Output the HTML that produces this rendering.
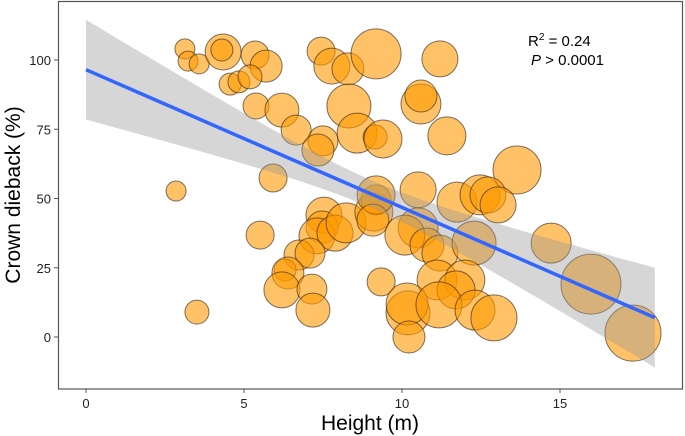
<!DOCTYPE html>
<html><head><meta charset="utf-8"><style>
html,body{margin:0;padding:0;background:#fff;}
svg{display:block;font-family:"Liberation Sans",Arial,sans-serif;}
</style></head><body>
<svg id="chart" width="685" height="436" viewBox="0 0 685 436">
<rect x="0" y="0" width="685" height="436" fill="#fff"/>
<g id="points"></g>
<g id="fit"></g>
<rect x="58.5" y="1.5" width="624" height="387.5" fill="none" stroke="#555" stroke-width="1.2"/>
<g id="axes"></g>
<text x="370" y="430" text-anchor="middle" font-size="21" fill="#000">Height (m)</text>
<text transform="translate(20,195) rotate(-90)" text-anchor="middle" font-size="21" fill="#000">Crown dieback (%)</text>
<text x="528" y="46" font-size="15" fill="#000">R<tspan font-size="10" dy="-6">2</tspan><tspan dy="6"> = 0.24</tspan></text>
<text x="531" y="65" font-size="15" fill="#000"><tspan font-style="italic">P</tspan> &gt; 0.0001</text>
</svg>
<script>
const xs=[3.13,3.23,3.58,4.34,4.30,5.35,5.70,4.56,4.84,5.19,5.38,6.20,6.65,7.50,7.34,7.44,7.78,8.29,8.32,8.58,9.18,9.15,9.40,11.20,10.60,10.60,11.42,13.64,2.85,5.92,5.51,3.51,7.53,7.47,7.31,7.88,8.23,9.11,9.18,6.74,7.09,6.30,6.39,6.20,7.15,7.18,9.18,9.08,10.51,11.74,12.47,12.72,13.04,10.51,10.09,10.79,11.20,12.28,14.72,15.98,17.31,9.34,11.11,11.99,11.71,10.19,10.16,11.17,12.31,12.91,10.22];
const ys=[104.0,99.6,98.6,102.9,103.6,101.8,97.8,91.3,92.1,93.9,83.4,81.9,74.7,70.8,67.5,103.2,97.8,96.8,83.4,73.6,102.2,72.2,71.5,100.4,84.1,87.0,72.6,60.3,52.7,57.4,36.8,9.0,44.0,39.7,36.5,37.5,41.2,45.1,49.5,29.6,30.3,24.2,23.1,17.0,17.3,9.7,51.3,42.2,53.1,48.7,51.3,51.3,47.7,39.4,36.8,33.2,30.3,33.9,33.9,19.1,1.4,19.9,20.6,20.6,17.0,8.7,11.9,11.6,9.7,6.9,0.0];
const sizes=[10,10,10,18,11,14,16,11,11,12,13,17,15,15,16,14,18,16,22,20,25,12,19,18,20,16,19,24,10,14,14,12,18,16,18,18,20,19,15,15,15,11,16,18,15,17,19,16,18,20,20,18,18,20,20,17,18,22,20,30,28,14,20,20,19,22,21,23,20,23,16];
const xTicks=[0,5,10,15];
const yTicks=[0,25,50,75,100];
const fitX=[0,18];
const fitY=[96.5,7];
const xMean=9, seMid=5, seSlope=3.69;
const NS="http://www.w3.org/2000/svg";
function sx(v){return 86+31.6*v;}
function sy(v){return 337-2.77*v;}
function fitAt(x){return fitY[0]+(fitY[1]-fitY[0])*(x-fitX[0])/(fitX[1]-fitX[0]);}
function hw(x){return Math.sqrt(seMid*seMid+seSlope*(x-xMean)*(x-xMean));}
const pg=document.getElementById('points');
for(let i=0;i<xs.length;i++){
  const c=document.createElementNS(NS,'circle');
  c.setAttribute('cx',sx(xs[i]));c.setAttribute('cy',sy(ys[i]));c.setAttribute('r',sizes[i]);
  c.setAttribute('fill','rgba(255,153,0,0.6)');c.setAttribute('stroke','rgba(40,30,20,0.6)');c.setAttribute('stroke-width','1');
  
  
  pg.appendChild(c);
}
const fg=document.getElementById('fit');
let up=[],lo=[];
for(let k=0;k<=60;k++){const x=fitX[0]+(fitX[1]-fitX[0])*k/60;up.push(sx(x)+','+sy(fitAt(x)+hw(x)));lo.unshift(sx(x)+','+sy(fitAt(x)-hw(x)));}
const rib=document.createElementNS(NS,'polygon');
rib.setAttribute('points',up.concat(lo).join(' '));
rib.setAttribute('fill','rgba(153,153,153,0.4)');


fg.appendChild(rib);
const ln=document.createElementNS(NS,'line');
ln.setAttribute('x1',sx(fitX[0]));ln.setAttribute('y1',sy(fitY[0]));ln.setAttribute('x2',sx(fitX[1]));ln.setAttribute('y2',sy(fitY[1]));
ln.setAttribute('stroke','#3366ff');ln.setAttribute('stroke-width','3.5');


fg.appendChild(ln);
const ag=document.getElementById('axes');
xTicks.forEach(t=>{
  const l=document.createElementNS(NS,'line');
  l.setAttribute('x1',sx(t));l.setAttribute('x2',sx(t));l.setAttribute('y1',389);l.setAttribute('y2',393);l.setAttribute('stroke','#555');
  
  
  ag.appendChild(l);
  const tx=document.createElementNS(NS,'text');
  tx.setAttribute('x',sx(t));tx.setAttribute('y',408);tx.setAttribute('text-anchor','middle');tx.setAttribute('font-size','13');tx.setAttribute('fill','#222');
  tx.textContent=t;
  
  
  ag.appendChild(tx);
});
yTicks.forEach(t=>{
  const l=document.createElementNS(NS,'line');
  l.setAttribute('x1',54);l.setAttribute('x2',58);l.setAttribute('y1',sy(t));l.setAttribute('y2',sy(t));l.setAttribute('stroke','#555');
  
  
  ag.appendChild(l);
  const tx=document.createElementNS(NS,'text');
  tx.setAttribute('x',51);tx.setAttribute('y',sy(t)+5);tx.setAttribute('text-anchor','end');tx.setAttribute('font-size','13');tx.setAttribute('fill','#222');
  tx.textContent=t;
  
  
  ag.appendChild(tx);
});
</script>
</body></html>
